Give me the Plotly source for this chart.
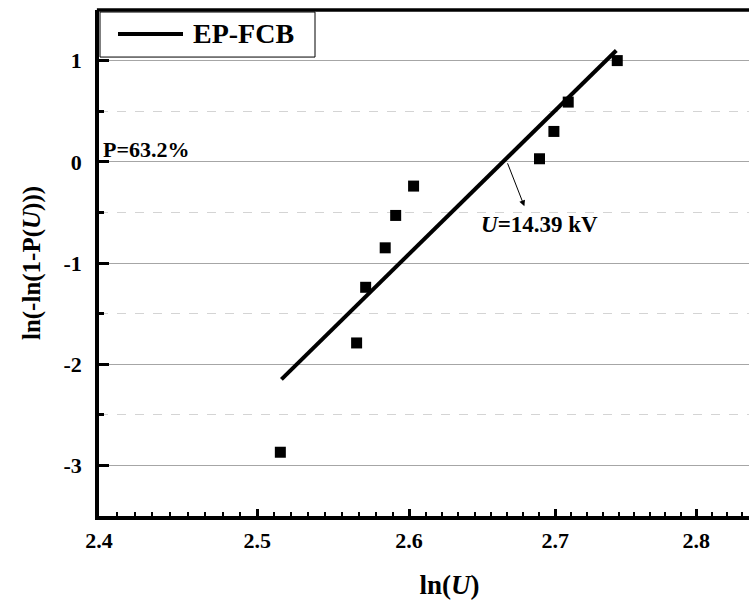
import math
import plotly.graph_objects as go

# ---- data ----
ln_u = [2.515, 2.565, 2.571, 2.584, 2.591, 2.603, 2.689, 2.699, 2.709, 2.7435]
weibull_y = [-2.87, -1.79, -1.24, -0.85, -0.53, -0.24, 0.03, 0.30, 0.59, 1.00]
fit_x = [2.5157, 2.7428]
fit_y = [-2.15, 1.10]
series_name = "EP-FCB"
x_tick_vals = [2.4, 2.5, 2.6, 2.7, 2.8]
x_tick_text = ["2.4", "2.5", "2.6", "2.7", "2.8"]
y_tick_vals = [-3, -2, -1, 0, 1]
y_tick_text = ["-3", "-2", "-1", "0", "1"]
u63_ln = 2.6665  # ln(14.39)

FONT = "Liberation Serif, Times New Roman, serif"
X_MAX = 2.876   # the plot continues past the picture's right edge
FIG_W = 800     # wider than the 749 px window; the right part is cut off

x_minor = []
for i in range(len(x_tick_vals)):
    for k in range(1, 9):
        v = round(x_tick_vals[i] + k * 0.1 / 9, 5)
        if v < X_MAX - 0.002:
            x_minor.append(v)

fig = go.Figure()
fig.add_trace(go.Scatter(
    x=fit_x, y=fit_y, mode="lines", name=series_name,
    line=dict(color="black", width=4), showlegend=False))
fig.add_trace(go.Scatter(
    x=ln_u, y=weibull_y, mode="markers", name="data",
    marker=dict(symbol="square", size=11, color="black"), showlegend=False))

x0 = math.log10(2.4)
x1 = math.log10(X_MAX)
pw = FIG_W - 99  # plot width in px, for paper-fraction placement of the legend

def px(p):
    return (p - 99) / pw

fig.update_layout(
    width=FIG_W, height=601,
    margin=dict(l=99, r=0, t=10, b=85),
    paper_bgcolor="white", plot_bgcolor="white",
    font=dict(family=FONT, color="black", size=22),
    xaxis=dict(
        type="log", range=[x0, x1],
        tickmode="array", tickvals=x_tick_vals,
        ticktext=["<b>%s</b>" % t for t in x_tick_text],
        ticks="inside", ticklen=7, tickwidth=2.5, tickcolor="black",
        showline=True, linewidth=3.5, linecolor="black", mirror=False,
        showgrid=False, zeroline=False, ticklabelstandoff=2,
        tickfont=dict(size=22, family=FONT),
        minor=dict(tickmode="array", tickvals=x_minor, ticks="inside",
                   ticklen=4, tickwidth=2, tickcolor="black", showgrid=False),
        title=dict(text="<b>ln(<i>U</i>)</b>", font=dict(size=27, family=FONT),
                   standoff=24),
    ),
    yaxis=dict(
        range=[-3.5, 1.5],
        tickmode="array", tickvals=y_tick_vals,
        ticktext=["<b>%s</b>" % t for t in y_tick_text],
        ticks="inside", ticklen=10, tickwidth=3, tickcolor="black",
        showline=True, linewidth=3.5, linecolor="black", mirror=False,
        showgrid=True, gridcolor="#a6a6a6", gridwidth=1,
        zeroline=False, ticklabelstandoff=9,
        tickfont=dict(size=22, family=FONT),
        minor=dict(dtick=0.5, tick0=0, ticks="inside", ticklen=5, tickwidth=2.5,
                   tickcolor="black", showgrid=True, gridcolor="#d4d4d4",
                   griddash="dash", gridwidth=1),
        title=dict(text="<b>ln(-ln(1-P(<i>U</i>)))</b>", font=dict(size=25, family=FONT),
                   standoff=17),
    ),
)

# top frame line
fig.add_shape(type="line", xref="paper", yref="paper",
              x0=-0.003, x1=1.0, y0=1, y1=1,
              line=dict(color="black", width=3.5), layer="above")

# legend box (manual)
fig.add_shape(type="rect", xref="paper", yref="paper",
              x0=px(100), x1=px(315), y0=0.907, y1=0.996,
              line=dict(color="black", width=1), fillcolor="white", layer="above")
fig.add_shape(type="line", xref="paper", yref="paper",
              x0=px(118), x1=px(183), y0=0.9526, y1=0.9526,
              line=dict(color="black", width=4), layer="above")
fig.add_annotation(xref="paper", yref="paper", x=px(191), y=0.9526,
                   xanchor="left", yanchor="middle", showarrow=False,
                   text="<b>%s</b>" % series_name, font=dict(size=28, family=FONT))

# P=63.2% label
fig.add_annotation(xref="paper", yref="y", x=px(100.5), y=0, xanchor="left",
                   yanchor="bottom", yshift=-2, showarrow=False,
                   text="<b>P=63.2%</b>", font=dict(size=22, family=FONT))

# arrow from intersection to label
fig.add_annotation(xref="x", yref="y", axref="x", ayref="y",
                   x=math.log10(2.6785), y=-0.44,
                   ax=math.log10(u63_ln), ay=0.0,
                   showarrow=True, arrowhead=2, arrowsize=1.2, arrowwidth=1,
                   arrowcolor="black", text="")
fig.add_annotation(xref="x", yref="y", x=math.log10(2.6891), y=-0.62,
                   showarrow=False, text="<b><i>U</i>=14.39 kV</b>",
                   font=dict(size=23, family=FONT))

fig.write_html("out.html", config={"displayModeBar": False},
               post_script="document.body.style.margin='0';"
                           "document.body.style.overflow='hidden';"
                           "document.documentElement.style.overflow='hidden';")
